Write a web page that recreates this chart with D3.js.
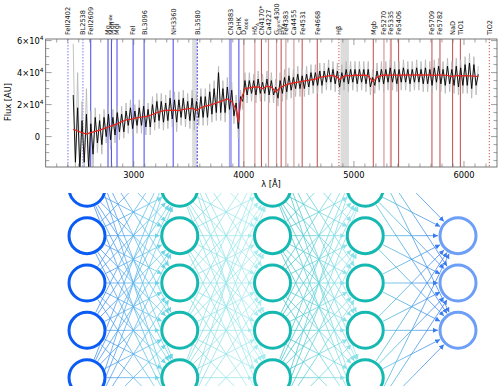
<!DOCTYPE html>
<html>
<head>
<meta charset="utf-8">
<script src="https://cdn.jsdelivr.net/npm/d3@7"></script>
<style>
body { margin: 0; background: #fff; }
svg { display: block; font-family: "DejaVu Sans", sans-serif; }
</style>
</head>
<body>
<svg id="chart" width="500" height="386"></svg>
<script>
// ---- spectrum data (flux in units of 1e3) ----
var waveStart = 2450, waveStep = 20;   // sampling of the observed spectrum
var fluxObs = [
  26,-16,18,-21,10,-16,14,-20,8,-11,
  12,-4,10,-5,12,0,14,-2,12,1,
  15,3,14,3,16,7,18,5,16,7,
  18,7,19,6,17,6,20,9,22,10,
  22,9,21,10,24,11,23,9,23,12,
  24,11,22,10,24,10,22,12,25,12,
  25,12,28,14,30,15,40,15,30,15,
  31,17,29,13,21,5,25,22,35,26,
  35,27,35,26,36,27,34,27,36,26,
  35,26,31,24,35,27,37,28,38,29,
  37,30,39,30,38,30,39,31,40,32,
  40,32,41,32,41,34,43,34,42,33,
  41,31,40,34,42,33,42,34,42,33,
  42,34,42,33,42,31,37,32,41,34,
  42,33,42,34,43,34,42,33,42,34,
  43,34,42,33,42,34,43,34,42,33,
  43,33,42,32,43,34,44,33,42,32,
  44,33,42,32,44,31,43,32,45,32,
  46,30,45,32,39
];
var fluxErr = [
  58,-19,40,-19,22,-19,30,-19,16,-19,
  18,-10,14,-11,17,-4,18,-8,17,-4,
  19,-2,19,-1,21,2,23,0,20,2,
  23,2,24,1,21,1,25,4,27,5,
  27,4,26,5,29,6,28,3,28,7,
  29,6,27,5,29,4,27,7,30,7,
  30,7,33,9,35,10,44,10,35,9,
  37,12,34,8,26,-1,29,17,40,21,
  40,22,39,21,41,22,39,22,41,21,
  40,21,36,19,40,22,42,23,43,24,
  42,25,44,25,43,25,44,26,45,27,
  45,27,46,27,46,29,48,29,47,28,
  46,26,45,29,47,28,47,29,47,28,
  47,29,47,28,47,26,42,27,46,29,
  47,28,47,29,48,29,47,28,47,29,
  48,29,47,28,47,29,48,29,47,28,
  48,28,47,27,48,29,49,28,47,27,
  49,28,47,27,49,26,48,27,50,27,
  52,24,50,26,44
];
var modelWave = [2450,2490,2530,2570,2610,2650,2690,2730,2770,2810,2850,2890,2930,2970,3010,3050,3090,3130,3170,3210,
  3250,3290,3330,3370,3410,3450,3490,3530,3570,3610,3650,3690,3730,3770,3810,3850,3890,3930,3950,3970,
  4010,4050,4090,4130,4170,4210,4250,4290,4330,4370,4410,4450,4490,4530,4570,4610,4650,4690,4730,4770,
  4810,4850,4870,4890,4930,4970,5010,5050,5090,5130,5170,5190,5210,5250,5290,5330,5370,5410,5450,5490,
  5530,5570,5610,5650,5690,5730,5770,5810,5850,5890,5930,5970,6010,6050,6090,6130];
var modelFlux = [4.5,3.5,2.5,1.6,2.5,3.2,4,5,6,7,8,9.3,10.5,10.8,11.4,12,12.3,12.8,13.8,15,
  15.8,16.5,16.4,16.6,16.2,17,17.3,17.8,16.5,18,19,19.7,20.5,21.5,22.5,23.5,22,17,9,22,
  30,30.5,31,31,30,31.5,31,28,30.5,32,33,33.5,34,34.5,35,35.5,36,37,37.5,38,
  38.3,37,35.5,37,38.2,38,38.5,38.3,38.5,38,34.5,35.5,37,38.2,38.5,38.3,38.6,38.2,38.5,38.6,
  38.4,38.6,38.5,38.4,38.6,38.3,38.5,38.4,38.3,37.5,38.2,38,38.1,38,37.8,37.5];

// ---- spectral indices ----
var indexNames = ["FeII2402","BL2538","FeII2609","Mg_{wide}","MgII","MgI","FeI","BL3096","NH3360","BL3580",
  "CN3883","CaHK","D_{4000}","Hδ_{A}","CN4170*","Ca4227","G_{cont}4300","Hγ_{A}","Fe4383","Ca4455",
  "Fe4531","Fe4668","Hβ","Mgb","Fe5270","Fe5335","Fe5406","Fe5709","Fe5782","NaD","TiO1","TiO2"];
var indexWaves = [2402,2538,2609,2766,2797,2848,2994,3094,3358,3577,
  3878,3955,4000,4100,4160,4224,4297,4339,4382,4455,
  4530,4667,4864,5176,5273,5336,5406,5709,5782,5897,5967,6230];
var indexGroup = ["uvBreak","uvBreak","uv","uv","uv","uv","uv","uv","uv","uvDash",
  "uvBand","uv","optWeak","optWeak","opt","optWeak","optWeak","opt","optWeak","optWeak",
  "opt","opt","optDot","opt","optWeak","optBand","opt","opt","opt","opt","opt","optDot"];
var bandStart = [3530, 4878];
var bandEnd = [3575, 4955];

var yTicks = [0, 2, 4, 6];
var xTicks = [3000, 4000, 5000, 6000];

// ---- network ----
var layerSizes = [7, 7, 7, 7, 3];

var styles = {
  uvBreak: {c: "#8f8ff5", w: 1.2, d: "1.5,1.5"},
  uv:      {c: "#4444ee", w: 1, d: null},
  uvDash:  {c: "#3b3bf0", w: 1, d: "2,1.5"},
  uvBand:  {c: "#a9a9f7", w: 3, d: null},
  opt:     {c: "#c04a4a", w: 1, d: null},
  optWeak: {c: "#d99999", w: 1.2, d: null},
  optBand: {c: "#dba0a0", w: 2.2, d: null},
  optDot:  {c: "#d05050", w: 1, d: "1.2,1.8"}
};

var svg = d3.select("#chart");
var margin = {left: 45.7, right: 497, top: 39, bottom: 167};

var x = d3.scaleLinear().domain([2200, 6300]).range([margin.left, margin.right]);
var y = d3.scaleLinear().domain([-19, 61]).range([margin.bottom, margin.top]);

// ================= neural network (behind) =================
var defs = svg.append("defs");
defs.append("clipPath").attr("id", "netClip")
  .append("rect").attr("x", 0).attr("y", 193).attr("width", 500).attr("height", 200);
defs.append("clipPath").attr("id", "plotClip")
  .append("rect").attr("x", margin.left).attr("y", margin.top)
  .attr("width", margin.right - margin.left).attr("height", margin.bottom - margin.top);

var layerX = d3.scaleLinear().domain([0, 4]).range([87, 458]);
var rowY = d3.scaleLinear().domain([0, 6]).range([141, 425]);
var nodeR = 18;
var nodeColors = ["#0b5cf5", "#16b9b1", "#16b9b1", "#16b9b1", "#6d9ff7"];
var gapColors = [["#3f8ef0", "#6fd6e6"], ["#86dde2", "#a8ecf0"], ["#40c4ca", "#8fe2ea"], ["#52c4d6", "#3a7cf0"]];

var layers = layerSizes.map(function(n, li) {
  var off = (7 - n) / 2;
  return d3.range(n).map(function(k) { return {x: layerX(li), y: rowY(k + off)}; });
});

gapColors.forEach(function(gc, gi) {
  var g = defs.append("linearGradient").attr("id", "grad" + gi)
    .attr("gradientUnits", "userSpaceOnUse")
    .attr("x1", layerX(gi)).attr("x2", layerX(gi + 1)).attr("y1", 0).attr("y2", 0);
  g.append("stop").attr("offset", "15%").attr("stop-color", gc[0]);
  g.append("stop").attr("offset", "85%").attr("stop-color", gc[1]);
  defs.append("marker").attr("id", "arr" + gi)
    .attr("viewBox", "0 0 10 10").attr("refX", 10).attr("refY", 5)
    .attr("markerWidth", 5).attr("markerHeight", 5).attr("markerUnits", "userSpaceOnUse")
    .attr("orient", "auto")
    .append("path").attr("d", "M0,0L10,5L0,10z").attr("fill", gc[1]);
});

var net = svg.append("g").attr("clip-path", "url(#netClip)");
var edges = [];
for (var li = 0; li < 4; li++) {
  layers[li].forEach(function(a) {
    layers[li + 1].forEach(function(b) { edges.push({a: a, b: b, gap: li}); });
  });
}
net.selectAll(".edge").data(edges).enter().append("line")
  .attr("class", "edge")
  .each(function(d) {
    var dx = d.b.x - d.a.x, dy = d.b.y - d.a.y, L = Math.sqrt(dx * dx + dy * dy);
    var ux = dx / L, uy = dy / L;
    d3.select(this)
      .attr("x1", d.a.x + ux * (nodeR + 1.5)).attr("y1", d.a.y + uy * (nodeR + 1.5))
      .attr("x2", d.b.x - ux * (nodeR + 2)).attr("y2", d.b.y - uy * (nodeR + 2));
  })
  .attr("stroke", function(d) { return "url(#grad" + d.gap + ")"; })
  .attr("stroke-width", 0.9)
  .attr("stroke-opacity", 0.85)
  .attr("marker-end", function(d) { return "url(#arr" + d.gap + ")"; });

layers.forEach(function(nodes, li) {
  net.selectAll(".n" + li).data(nodes).enter().append("circle")
    .attr("class", "n" + li)
    .attr("cx", function(d) { return d.x; }).attr("cy", function(d) { return d.y; })
    .attr("r", nodeR).attr("fill", "#fff")
    .attr("stroke", nodeColors[li]).attr("stroke-width", 3);
});

// ================= spectrum plot =================
var plot = svg.append("g");
var inner = plot.append("g").attr("clip-path", "url(#plotClip)");

inner.selectAll(".band").data(bandStart).enter().append("rect")
  .attr("x", function(d) { return x(d); })
  .attr("width", function(d, i) { return x(bandEnd[i]) - x(d); })
  .attr("y", margin.top).attr("height", margin.bottom - margin.top)
  .attr("fill", "#dcdcdc");

var idx = indexNames.map(function(n, i) { return {name: n, w: indexWaves[i], s: styles[indexGroup[i]]}; });

inner.selectAll(".idx").data(idx).enter().append("line")
  .attr("x1", function(d) { return x(d.w); }).attr("x2", function(d) { return x(d.w); })
  .attr("y1", margin.top).attr("y2", margin.bottom)
  .attr("stroke", function(d) { return d.s.c; })
  .attr("stroke-width", function(d) { return d.s.w; })
  .attr("stroke-dasharray", function(d) { return d.s.d; });

var obs = fluxObs.map(function(f, i) { return [waveStart + i * waveStep, f, fluxErr[i]]; });
inner.append("path")
  .attr("d", d3.line().x(function(d) { return x(d[0]); }).y(function(d) { return y(d[2]); })(obs))
  .attr("fill", "none").attr("stroke", "#b4b4b4").attr("stroke-width", 0.8);
inner.append("path")
  .attr("d", d3.line().x(function(d) { return x(d[0]); }).y(function(d) { return y(d[1]); })(obs))
  .attr("fill", "none").attr("stroke", "#000").attr("stroke-width", 0.9);
inner.append("path")
  .attr("d", d3.line().x(function(d, i) { return x(modelWave[i]); }).y(function(d) { return y(d); })(modelFlux))
  .attr("fill", "none").attr("stroke", "#e3261f").attr("stroke-width", 1.3);

// frame & ticks
plot.append("rect").attr("x", margin.left).attr("y", margin.top)
  .attr("width", margin.right - margin.left).attr("height", margin.bottom - margin.top)
  .attr("fill", "none").attr("stroke", "#555").attr("stroke-width", 0.8);

var ticks = plot.append("g").attr("stroke", "#777").attr("stroke-width", 0.7);
d3.range(2300, 6300, 100).forEach(function(w) {
  var len = (w % 1000 === 0) ? 6 : 3.5;
  ticks.append("line").attr("x1", x(w)).attr("x2", x(w)).attr("y1", margin.bottom).attr("y2", margin.bottom - len);
  ticks.append("line").attr("x1", x(w)).attr("x2", x(w)).attr("y1", margin.top).attr("y2", margin.top + len);
});
d3.range(-15, 61, 5).forEach(function(f) {
  var len = (f % 20 === 0) ? 6 : 3.5;
  ticks.append("line").attr("x1", margin.left).attr("x2", margin.left + len).attr("y1", y(f)).attr("y2", y(f));
  ticks.append("line").attr("x1", margin.right).attr("x2", margin.right - len).attr("y1", y(f)).attr("y2", y(f));
});

// axis labels
var fs = 8.3;
plot.selectAll(".xt").data(xTicks).enter().append("text")
  .attr("x", function(d) { return x(d); }).attr("y", 177.5)
  .attr("text-anchor", "middle").attr("font-size", fs).text(function(d) { return d; });

yTicks.forEach(function(t) {
  var tx = plot.append("text").attr("x", 43.5).attr("y", y(t * 10) + 3.2)
    .attr("text-anchor", "end").attr("font-size", fs);
  if (t === 0) { tx.attr("x", 40).text("0"); return; }
  tx.append("tspan").text(t + "×10");
  tx.append("tspan").attr("dy", -4).attr("font-size", 5.8).text("4");
});

plot.append("text").attr("transform", "translate(11,102) rotate(-90)")
  .attr("text-anchor", "middle").attr("font-size", fs).text("Flux [AU]");
plot.append("text").attr("x", 271).attr("y", 187)
  .attr("text-anchor", "middle").attr("font-size", fs).text("λ [Å]");

// index names on top
var lab = plot.selectAll(".lab").data(idx).enter().append("text")
  .attr("transform", function(d) { return "translate(" + (x(d.w) + 2.4) + ",35) rotate(-90)"; })
  .attr("font-size", 6.6).attr("fill", "#111");
lab.each(function(d) {
  var t = d3.select(this);
  var parts = d.name.split(/_\{|\}/);
  parts.forEach(function(p, k) {
    if (!p) return;
    if (k % 2 === 1) {
      t.append("tspan").attr("font-size", 4.5).attr("dy", 1.5).text(p);
    } else {
      var sp = t.append("tspan").text(p);
      if (k > 0) sp.attr("dy", -1.5);
    }
  });
});
</script>
</body>
</html>
